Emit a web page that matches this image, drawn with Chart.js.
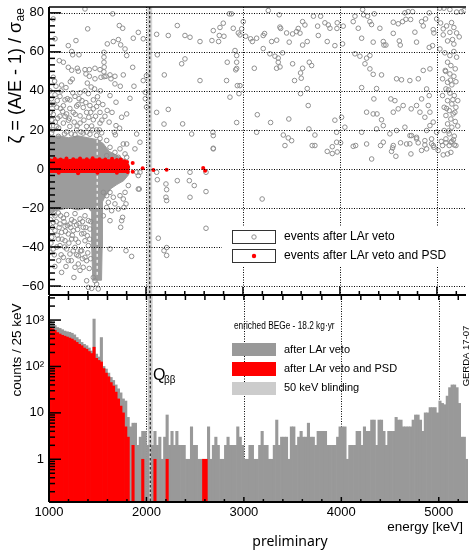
<!DOCTYPE html>
<html>
<head>
<meta charset="utf-8">
<script src="https://cdn.jsdelivr.net/npm/chart.js@4.4.0/dist/chart.umd.min.js"></script>
<style>
body { margin: 0; background: #fff; width: 471px; height: 556px; overflow: hidden; position: relative; }
canvas { position: absolute; left: 0; }
#top { top: 0; }
#bot { top: 290px; }
</style>
</head>
<body>
<canvas id="top" width="471" height="300"></canvas>
<canvas id="bot" width="471" height="266"></canvas>
<script>
const FONT = "'Liberation Sans', Arial, Helvetica, sans-serif";
Chart.defaults.font.family = FONT;
Chart.defaults.color = '#000';

// binning of the energy spectrum
const binStart = 1000;
const binWidth = 25;
const qbb = 2039;
const blindLow = 2014;
const blindHigh = 2064;

// counts / 25 keV after LAr veto
const grayCounts = [
  950, 860, 760, 690, 660, 620, 580, 560, 545, 520,
  480, 420, 380, 330, 300, 280, 250, 215, 1050, 185,
  160, 420, 100, 88, 72, 58, 50, 40, 33, 27,
  20, 18, 8, 5, 6, 6, 2, 3, 4, 4,
  2, 0, 2, 4, 2, 3, 1, 3, 9, 2,
  4, 2, 4, 2, 2, 2, 1, 1, 5, 2,
  2, 1, 1, 1, 1, 5, 1, 2, 3, 2,
  1, 1, 2, 3, 2, 2, 2, 5, 3, 2,
  1, 1, 2, 2, 1, 1, 2, 4, 2, 2,
  1, 1, 2, 7, 2, 3, 3, 3, 1, 5,
  5, 2, 3, 4, 3, 3, 6, 3, 3, 2,
  4, 4, 4, 4, 2, 2, 2, 2, 3, 5,
  5, 5, 1, 2, 2, 2, 4, 4, 2, 5,
  4, 4, 7, 7, 2, 7, 7, 4, 2, 4,
  4, 4, 8, 7, 7, 5, 5, 5, 5, 7,
  9, 9, 7, 4, 10, 10, 13, 13, 13, 10,
  18, 16, 15, 23, 35, 40, 40, 35, 16, 3,
  3, 1
];

// counts / 25 keV after LAr veto and PSD
const redCounts = [
  700, 650, 600, 540, 500, 470, 450, 430, 410, 390,
  360, 330, 300, 280, 250, 235, 210, 190, 260, 150,
  135, 125, 90, 72, 60, 45, 38, 28, 20, 14,
  10, 5, 3, 0, 2, 0, 0, 0, 1, 0,
  0, 0, 0, 1, 0, 0, 0, 0, 1, 0,
  0, 0, 0, 0, 0, 0, 0, 0, 0, 0,
  0, 0, 0, 1, 1, 0, 0, 0, 0, 0,
  0, 0, 0, 0, 0, 0, 0, 0, 0, 0,
  0, 0, 0, 0, 0, 0, 0, 0, 0, 0,
  0, 0, 0, 0, 0, 0, 0, 0, 0, 0,
  0, 0, 0, 0, 0, 0, 0, 0, 0, 0,
  0, 0, 0, 0, 0, 0, 0, 0, 0, 0,
  0, 0, 0, 0, 0, 0, 0, 0, 0, 0,
  0, 0, 0, 0, 0, 0, 0, 0, 0, 0,
  0, 0, 0, 0, 0, 0, 0, 0, 0, 0,
  0, 0, 0, 0, 0, 0, 0, 0, 0, 0,
  0, 0, 0, 0, 0, 0, 0, 0, 0, 0,
  0, 0
];

// [energy keV, zeta] events after LAr veto (sparse part)
const vetoEvents = [
  [1371,82],[1044,76.9],[1062,66.7],[1657,79.5],[1399,71.8],[1725,73.5],[1760,72.1],[1921,70],[1869,67],[1972,66.7],
  [1199,63.2],[1278,65.8],[1601,64.1],[1663,65.3],[1715,66.3],[1739,63.6],[1784,61.5],[1309,58.5],[1234,60.2],[1244,58.5],
  [1801,58.1],[1567,59.8],[1567,57.3],[1567,54.7],[1569,52.2],[1566,49.8],[1568,47.3],[1106,55.5],[1148,54.7],[1199,52.1],
  [1234,50.6],[1292,51.6],[1302,50.1],[1371,50.9],[1416,50.9],[1474,51.6],[1526,50.9],[1381,48.7],[1416,47.5],[1474,46.2],
  [1536,47],[1588,47.5],[1629,48.2],[1639,46.2],[1680,43.6],[1680,47.5],[1766,48.2],[1863,52.1],[1972,45.3],[2005,47.8],
  [1876,42.4],[1735,42.4],[1629,37.6],[1691,34.2],[1835,36.2],[1993,39.3],[1993,36],[2005,31.7],[1801,28.2],[1749,26.5],
  [1691,22.2],[1728,20.9],[1674,18.8],[1684,17.5],[1766,12.8],
  [1044,47],[1058,45],[1072,42.4],[1130,43],[1175,41.7],[1220,44.7],[1240,46],[1062,38],[1113,37.2],[1165,35.4],
  [1215,35.4],[1268,37.2],[1320,39],[1371,40],[1406,38.6],[1457,35.4],[1491,32],[1422,32.5],[1353,31.5],[1285,32.2],
  [1215,31],[1148,32.4],[1079,31.6],[1044,28],[1113,27],[1182,28.2],[1250,29],[1320,27.2],[1388,29],[1457,30.8],
  [1526,29],[1320,23.5],[1388,21.8],[1457,25.2],[1526,23.5],[1577,27],[1491,20],[1353,18.4],[1285,20],[1215,21.8],
  [1148,23.5],[1079,21.8],[1027,18.4],[1096,16.7],[1182,19],[1268,17.5],[1422,17.8],[1491,17.2],[1543,18.5],[1595,14.6],
  [1526,15.6],[1388,18.9],[1010,40],[1020,33],[1030,25],[1090,26],[1140,29.5],[1200,25],[1260,24],[1300,33],
  [1340,35],[1410,26.5],[1440,22],[1470,41],[1500,37],[1530,40],[1555,33],[1600,30],[1620,24],[1650,29],
  [1005,22],[1015,29],[1025,36],[1040,20],[1050,33],[1065,24],[1085,35],[1100,21],[1120,31],[1125,40],
  [1160,18],[1165,27],[1190,36],[1210,26],[1230,18],[1245,39],[1270,28],[1290,22],[1310,36],[1330,19],
  [1360,25],[1380,34],[1395,44],[1430,29],[1450,20],[1480,27],[1510,34],[1520,20],[1545,25],[1435,42],
  [2117,58.5],[2230,68.4],[2110,69],[2323,73.5],[2402,56.4],[2368,53.9],[2402,68.4],[2454,67.5],[2557,45.3],[2557,65.3],
  [2680,65.8],[2694,70.9],[2763,72.5],[2797,74.7],[2859,79.5],[2882,79.5],[2900,72.1],[2952,69.7],[2756,68.4],[2749,65.3],
  [2804,68],[2838,54.7],[2935,54.7],[2969,42.7],[2935,51.5],[2831,45.3],[2866,36.8],[2378,23.1],[2471,17.9],[2690,18.8],
  [2694,17.1],[2694,10.3],[2110,29],[2186,23],[2189,48.2],[2230,30.5],
  [3003,75.5],[2987,71.8],[2969,68.7],[3028,68],[3079,66.7],[3097,65.3],[3141,67],[3209,68.4],[3223,69.4],[3261,81.2],
  [3374,79],[3296,65.3],[3348,66],[3381,72.7],[3389,72],[3450,69.7],[3477,65],[3512,69.2],[3553,70.4],[3570,72],
  [3588,69.6],[3615,75.5],[3639,73.8],[3663,65.3],[3615,63.5],[3727,78.3],[3801,78.3],[3770,73.2],[3777,68.4],[3845,74.9],
  [3880,73.8],[3897,72.1],[3869,65.3],[3972,74.9],[3969,72],[3948,63.2],[4034,73.2],[4027,64.1],[4137,75.5],[4155,78.3],
  [4189,72.1],[4224,67],[4234,81.7],[4244,79],[4285,78.3],[4309,75.5],[4326,74],[4343,65],[4354,79.5],[4412,72.1],
  [4447,65.3],[4454,63.5],[4474,63.5],[4550,75.2],[4550,69.5],[4601,74.4],[4612,65.6],[4622,63.5],[4646,75.5],[4670,80],
  [4680,76.7],[4704,80.6],[4729,76.6],[4749,80.6],[4773,70.1],[4790,65],[4842,75.5],[4859,73.3],[4883,76.9],[4921,80],
  [4962,71.4],[4969,69.7],[4955,63.2],[4921,62.3],[5031,82.4],[5072,82.4],[5134,81.7],[5203,80.4],[5254,80.6],[5280,81.2],
  [4997,76.9],[5038,74.8],[5065,71.8],[5100,73.3],[5151,75],[5175,72.5],[5203,69.7],[5230,67.7],[5161,66.3],[5110,65.6],
  [5065,68.7],[5134,70],[5175,64],[5031,61.5],[5082,59.5],[5134,58.1],[5175,60.2],[5203,57.3],[5110,54.7],[5144,53],
  [5189,51.3],[5086,50.5],[5134,48.7],[5175,47.5],[5058,46.2],[5110,44.4],[5154,43.1],[5196,44.7],[5093,41],[5134,38.9],
  [5179,37.6],[5058,37.6],[5110,35],[5154,33.3],[5196,31.6],[5075,31.6],[5127,29.9],[5168,28.2],[5093,27.4],[5144,25.6],
  [5189,24.3],[5110,23.1],[5154,21.4],[5075,19.7],[5127,18],[5179,16.8],[5093,15.4],[5144,13.7],[5196,12],[5058,12],
  [5120,40.5],[5165,35.5],[5100,31],[5140,45.5],[5185,29],[5120,19.5],[5170,15],[5215,22],[5215,35],[5090,50],
  [4928,51.3],[4859,50.5],[4808,46.2],[4894,41],[4921,37.6],[4842,35.9],[4790,32.5],[4911,32.5],[4928,29.1],[4876,26.5],
  [4825,29.1],[4962,24],[4928,22.2],[4894,19.7],[4997,18.8],[4945,15.4],[4876,14.5],[4790,16.2],[4722,17.1],[4962,12],
  [4155,59],[4206,57.8],[4275,56.8],[4309,58.1],[4258,53.9],[4309,51.3],[4343,48.5],[4429,48.2],[4584,46.2],[4635,45.7],
  [4721,45.3],[4224,41.7],[4350,35.9],[4378,41.2],[4525,35.9],[4567,35],[4601,30.8],[4550,29.1],[4652,32.5],[4735,30.8],
  [4275,29.1],[4343,28.2],[4382,28.2],[4429,25.2],[4447,22.2],[4378,20.5],[4224,18.8],[4051,21.4],[4017,26.5],[3966,13.7],
  [4515,18],[4584,19.7],[4670,21.4],[4738,17.1],[4790,15.4],[4687,12.8],[4550,12],[4447,13.7],
  [2918,60.7],[2935,58.1],[3209,61.7],[3278,59],[3330,57.8],[3364,56.8],[3364,54.7],[3409,59.5],[3512,53.9],[3684,54.7],
  [3708,53],[3615,51.6],[3594,49.2],[3347,51.6],[3382,52.3],[3117,51.6],[2925,50.8],[3601,46.5],[3532,45.3],[2942,42.7],
  [3663,41.2],[3594,38.6],[3673,32.5],[2959,38.6],[3148,27.8],[3285,23.8],[3473,25.6],[3680,20.5],[3416,17.4],[3141,18.8],
  [2935,23.8],[3467,15.9],[3948,25],[3966,18.8],[3742,17.4],[3742,12],[4162,12],[4275,12.8],
  [3433,12],[3502,14.5],[3714,12],[3869,9],[3921,7.9],[3921,11.4],[3972,8.7],[4007,13.4],[4137,11.6],[4327,5.1],
  [4419,12],[4543,10.8],[4532,9],[4577,6.5],[4625,13.4],[4721,12.9],[4732,7.7],[4807,13.4],[4842,9.5],[4894,10.3],
  [4876,12.3],[4945,12.9],[4969,11.1],[5013,9.5],[5045,14.1],[5093,13.4],[5127,12],[5154,14.1],[5110,7.7],[5065,7.2],
  [5144,8.5],[5179,12.3],[3198,-15.4],
  [1801,12.8],[1801,6],[1904,-1.7],[1921,-3.4],[1938,-1.7],[1931,-10.3],[1794,-17.9],[1773,-19.7],[1759,-24.8],[1749,-26.5],
  [1739,-29.9],[1794,-41.9],[1852,-44.8],[1629,-41],[2110,-1.7],[2117,-5.5],[2127,-35.5],[2186,-41.9],[2213,-40.3],[2213,-44.3],
  [2206,-7.7],[2213,-10.6],[2206,-14.5],[2213,-16.2],[2323,-6],[2454,-1.7],[2447,-6],[2498,-8.5],[2454,-14.5],[2619,-11.6],
  [2619,-30.4],[2694,10.6],[2619,-1.7],[1904,17.9],[1938,13.7],[1886,10.3],[1921,-10.3],
  [1028,-21.4],[1062,-24],[1096,-22.6],[1148,-25.2],[1182,-23.4],[1234,-26],[1268,-22.9],[1320,-25.6],[1371,-24],[1406,-26.5],
  [1044,-27.4],[1113,-28.2],[1165,-29.4],[1216,-28.2],[1285,-28.7],[1353,-29.9],[1422,-30.8],[1062,-31.6],[1130,-32.5],[1199,-33.3],
  [1250,-31.6],[1337,-33.3],[1395,-34.2],[1028,-35],[1096,-35.9],[1165,-36.8],[1234,-35.9],[1302,-37.6],[1371,-36.8],[1113,-39.3],
  [1182,-41],[1268,-40.2],[1337,-41.9],[1406,-39.3],[1044,-41],[1216,-43.6],[1302,-44.5],[1371,-45.3],[1148,-45.3],[1010,-42.7],
  [1199,-47],[1302,-48.7],[1388,-47],[1268,-50.4],[1353,-50.4],[1130,-53],[1257,-55.6],[1388,-57.3],[1406,-60.7],[1440,-61.2],
  [1508,-61.5],[1474,-57.3],[1457,-55.6],[1491,-59],
  [1015,-26],[1035,-30],[1050,-23],[1075,-27],[1085,-34],[1105,-30],[1120,-24],[1135,-36],[1155,-27],[1170,-32],
  [1190,-29],[1205,-38],[1225,-30],[1240,-34],[1260,-27],[1275,-36],[1295,-31],[1310,-28],[1325,-42],[1345,-27],
  [1360,-33],[1380,-30],[1400,-43],[1420,-36],[1430,-27],[1020,-38],[1055,-44],[1080,-40],[1100,-47],[1125,-44],
  [1160,-40],[1175,-50],[1230,-47],[1250,-42],[1285,-44],[1320,-52],[1345,-46],[1415,-51],[1430,-46],[1060,-50],
  [1560,-12],[1595,-13.7],[1629,-12],[1663,-14.5],[1612,-17.1],[1680,-17.9],[1732,-13.7],[1766,-15.4],[1715,-20.5],[1646,-21.4],
  [1595,-19.7],[1784,-12],[1818,-8.5],[1560,-24],[1629,-26.5],
  [1680,8.5],[1732,10.3],[1784,7.7],[1629,11.1],[1715,6],[1595,6.8]
];

// outline of the densely populated region after LAr veto
const coreOutline = [
  [1000,16],[1100,17],[1200,16],[1300,17],[1400,16],[1500,15],[1560,13],[1620,9],[1700,7],[1770,5],[1820,3],
  [1832,0],[1820,-3],[1770,-6],[1700,-8],[1640,-10],[1580,-14],[1550,-17],
  [1548,-40],[1542,-57],[1452,-57],[1440,-40],[1440,-22],
  [1400,-20],[1300,-21],[1200,-20],[1100,-21],[1000,-22]
];
const lineGap = [[1497,18],[1497,-55]];

// events after LAr veto and PSD
const psdBand = [
  [1000,4.8],[1100,5.1],[1200,4.8],[1300,5.1],[1400,4.9],[1500,5.2],[1600,4.7],[1700,4.7],[1780,4.1],[1815,2.5],
  [1818,-1],[1800,-1.8],[1000,-1.8]
];
const psdEvents = [
  [1863,3],[1863,-1.4],[1966,0.4],[2076,-0.5],[2213,-0.4],[2590,0.5],[2610,-0.9],
  [1010,4.5],[1060,5.2],[1120,4.8],[1180,5.3],[1250,5],[1320,5.4],[1390,5],[1450,5.5],[1520,5],[1580,4.8],
  [1650,5.2],[1700,4.6],[1740,4.9],[1780,4],[1805,3.5],[1815,1],[1812,-1.5],
  [1100,-2],[1300,-2.2],[1500,-2],[1700,-2]
];

const zetaTicks = [-60, -40, -20, 0, 20, 40, 60, 80];
const energyTicks = [1000, 2000, 3000, 4000, 5000];
const countTicks = [1, 10, 100, 1000];
const countLabels = ['1', '10', '10²', '10³'];

const toXY = arr => arr.map(([x, y]) => ({x: x, y: y}));
const binCenters = grayCounts.map((c, i) => binStart + binWidth * (i + 0.5));
const toHist = counts => counts.map((c, i) => ({x: binCenters[i], y: c > 0 ? c : null}));

function line(ctx, x1, y1, x2, y2) {
  ctx.beginPath(); ctx.moveTo(x1, y1); ctx.lineTo(x2, y2); ctx.stroke();
}
function minorRange(from, to, step) {
  const out = [];
  for (let v = from; v <= to + 1e-9; v += step) out.push(Math.round(v * 1000) / 1000);
  return out;
}
function text(ctx, s, x, y, size, align, base, family) {
  ctx.font = size + 'px ' + (family || FONT);
  ctx.textAlign = align || 'left';
  ctx.textBaseline = base || 'middle';
  ctx.fillStyle = '#000';
  ctx.fillText(s, x, y);
}

const topDeco = {
  id: 'topDeco',
  beforeDatasetsDraw(chart) {
    const {ctx, chartArea: a, scales: {x}} = chart;
    ctx.save();
    ctx.fillStyle = '#d4d4d4';
    const b0 = x.getPixelForValue(blindLow), b1 = x.getPixelForValue(blindHigh);
    ctx.fillRect(b0, a.top, b1 - b0, a.bottom - a.top);
    ctx.restore();
  },
  afterDatasetsDraw(chart) {
    const {ctx, chartArea: a, scales: {x, y}} = chart;
    ctx.save();
    // dotted grid
    ctx.strokeStyle = '#000';
    ctx.lineWidth = 1;
    ctx.setLineDash([1, 1.5]);
    zetaTicks.forEach(v => { const py = Math.round(y.getPixelForValue(v)) + 0.5; line(ctx, a.left, py, a.right, py); });
    energyTicks.slice(1).forEach(v => { const px = Math.round(x.getPixelForValue(v)) + 0.5; line(ctx, px, a.top, px, a.bottom); });
    ctx.setLineDash([2.5, 2]);
    const qx = x.getPixelForValue(qbb);
    line(ctx, qx, a.top, qx, a.bottom);
    ctx.setLineDash([]);

    // legend
    ctx.fillStyle = '#fff';
    ctx.fillRect(222, 226, a.right - 222, 41);
    ctx.strokeStyle = '#333';
    ctx.strokeRect(232.5, 230.5, 43, 13);
    ctx.strokeRect(232.5, 249.5, 43, 13);
    ctx.strokeStyle = '#8f8f8f';
    ctx.beginPath(); ctx.arc(254, 237, 2.2, 0, 2 * Math.PI); ctx.stroke();
    ctx.fillStyle = '#ff0000';
    ctx.beginPath(); ctx.arc(254, 256, 2.2, 0, 2 * Math.PI); ctx.fill();
    text(ctx, 'events after LAr veto', 284, 237, 12);
    text(ctx, 'events after LAr veto and PSD', 284, 256, 12);

    // frame and ticks
    ctx.strokeStyle = '#000';
    ctx.lineWidth = 1.5;
    line(ctx, a.left, a.top, a.right, a.top);
    ctx.lineWidth = 2;
    line(ctx, a.left, a.top, a.left, a.bottom);
    line(ctx, a.left, a.bottom, a.right, a.bottom);
    ctx.lineWidth = 1.5;
    minorRange(-60, 80, 20 / 6).forEach(v => {
      if (v < y.min || v > y.max) return;
      const py = y.getPixelForValue(v);
      const major = zetaTicks.some(t => Math.abs(t - v) < 0.01);
      line(ctx, a.left, py, a.left + (major ? 12 : 6), py);
    });
    minorRange(1200, 5200, 200).forEach(v => {
      const px = x.getPixelForValue(v);
      const major = v % 1000 === 0;
      line(ctx, px, a.bottom, px, a.bottom - (major ? 8 : 4));
    });

    // axis title with subscript
    ctx.translate(16, 76);
    ctx.rotate(-Math.PI / 2);
    ctx.font = '18px ' + FONT;
    const main = 'ζ = (A/E - 1) / σ';
    const w1 = ctx.measureText(main).width;
    ctx.font = '12px ' + FONT;
    const w2 = ctx.measureText('ae').width;
    const x0 = -(w1 + w2) / 2;
    text(ctx, main, x0, 0, 18);
    text(ctx, 'ae', x0 + w1 + 0.5, 5, 12);
    ctx.restore();
  }
};

const botDeco = {
  id: 'botDeco',
  beforeDatasetsDraw(chart) {
    const {ctx, chartArea: a, scales: {x}} = chart;
    ctx.save();
    ctx.fillStyle = '#cccccc';
    const b0 = x.getPixelForValue(blindLow), b1 = x.getPixelForValue(blindHigh);
    ctx.fillRect(b0, a.top, b1 - b0, a.bottom - a.top);
    ctx.strokeStyle = '#000';
    ctx.lineWidth = 1;
    ctx.setLineDash([1, 1.5]);
    energyTicks.slice(1).forEach(v => { const px = Math.round(x.getPixelForValue(v)) + 0.5; line(ctx, px, a.top, px, a.bottom); });
    ctx.setLineDash([2.5, 2]);
    const qx = x.getPixelForValue(qbb);
    line(ctx, qx, a.top, qx, a.bottom);
    ctx.restore();
  },
  afterDatasetsDraw(chart) {
    const {ctx, chartArea: a, scales: {x, y}} = chart;
    ctx.save();
    ctx.strokeStyle = '#000';
    ctx.lineWidth = 2;
    line(ctx, a.left, a.top, a.left, a.bottom);
    line(ctx, a.left, a.bottom, a.right, a.bottom);
    ctx.lineWidth = 1.5;
    minorRange(1200, 5200, 200).forEach(v => {
      const px = x.getPixelForValue(v);
      const major = v % 1000 === 0;
      line(ctx, px, a.top, px, a.top + 4);
      line(ctx, px, a.bottom, px, a.bottom - (major ? 5 : 3));
    });
    [0.1, 1, 10, 100, 1000].forEach(dec => {
      for (let k = 1; k <= 9; k++) {
        const v = dec * k;
        if (v < y.min || v > y.max) continue;
        const py = y.getPixelForValue(v);
        line(ctx, a.left, py, a.left + (k === 1 ? 12 : 6), py);
      }
    });

    // legend
    ctx.fillStyle = '#999999'; ctx.fillRect(232, 53, 44, 13);
    ctx.fillStyle = '#ff0000'; ctx.fillRect(232, 72, 44, 14);
    ctx.fillStyle = '#cccccc'; ctx.fillRect(232, 92, 44, 13);
    ctx.save();
    ctx.translate(234, 36);
    ctx.scale(0.83, 1);
    text(ctx, 'enriched BEGe - 18.2 kg·yr', 0, 0, 10);
    ctx.restore();
    text(ctx, 'after LAr veto', 284, 60, 11);
    text(ctx, 'after LAr veto and PSD', 284, 79, 11);
    text(ctx, '50 keV blinding', 284, 98, 11);

    // Q_bb label
    text(ctx, 'Q', 153, 90, 16, 'left', 'alphabetic');
    text(ctx, 'ββ', 164, 93, 10, 'left', 'alphabetic');

    text(ctx, 'energy [keV]', 463, 237, 13.5, 'right');
    text(ctx, 'preliminary', 290, 256, 14, 'center', 'alphabetic', "'Noto Sans', sans-serif");

    ctx.save();
    ctx.translate(17, 60);
    ctx.rotate(-Math.PI / 2);
    text(ctx, 'counts / 25 keV', 0, 0, 13.5, 'center');
    ctx.restore();

    ctx.translate(466, 66);
    ctx.rotate(-Math.PI / 2);
    text(ctx, 'GERDA 17-07', 0, 0, 9.5, 'center');
    ctx.restore();
  }
};

function noPad(s) { s.paddingTop = 0; s.paddingBottom = 0; s.paddingLeft = 0; s.paddingRight = 0; }

new Chart(document.getElementById('top'), {
  type: 'scatter',
  data: {
    datasets: [
      { data: toXY(psdEvents), pointRadius: 2, backgroundColor: '#ff0000', borderWidth: 0, order: 1 },
      { type: 'line', data: toXY(psdBand), showLine: true, fill: 'shape', backgroundColor: '#ff0000',
        borderColor: '#ff0000', borderWidth: 1, pointRadius: 0, tension: 0, order: 2 },
      { type: 'line', data: toXY(lineGap), showLine: true, borderColor: '#ffffff', borderWidth: 1.2,
        borderDash: [3, 3], pointRadius: 0, fill: false, order: 3 },
      { data: toXY(vetoEvents), pointRadius: 2.3, borderColor: '#8f8f8f', borderWidth: 1,
        backgroundColor: 'rgba(0,0,0,0)', order: 4 },
      { type: 'line', data: toXY(coreOutline), showLine: true, fill: 'shape', backgroundColor: '#9c9c9c',
        borderColor: '#9c9c9c', borderWidth: 1, pointRadius: 0, tension: 0, order: 5 }
    ]
  },
  options: {
    responsive: false,
    animation: false,
    events: [],
    layout: { padding: { top: 7, right: 3, left: 0, bottom: 0 } },
    plugins: { legend: { display: false }, tooltip: { enabled: false } },
    scales: {
      x: {
        type: 'linear', min: 1000, max: 5300,
        ticks: { display: false },
        grid: { display: false, drawTicks: false },
        border: { display: false },
        afterFit(s) { s.height = 4; noPad(s); }
      },
      y: {
        type: 'linear', min: -64.6, max: 83,
        afterBuildTicks(s) { s.ticks = zetaTicks.map(v => ({value: v})); },
        ticks: { font: { size: 13 }, color: '#000', padding: 5,
          callback: v => (v < 0 ? '\u2212' + Math.abs(v) : String(v)) },
        grid: { display: false, drawTicks: false },
        border: { display: false },
        afterFit(s) { s.width = 49; noPad(s); }
      }
    }
  },
  plugins: [topDeco]
});

new Chart(document.getElementById('bot'), {
  type: 'bar',
  data: {
    datasets: [
      { data: toHist(redCounts), backgroundColor: '#ff0000', barPercentage: 1, categoryPercentage: 1,
        grouped: false, borderWidth: 0, order: 1 },
      { data: toHist(grayCounts), backgroundColor: '#999999', barPercentage: 1, categoryPercentage: 1,
        grouped: false, borderWidth: 0, order: 2 }
    ]
  },
  options: {
    responsive: false,
    animation: false,
    events: [],
    layout: { padding: { top: 6, right: 3, left: 0, bottom: 0 } },
    plugins: { legend: { display: false }, tooltip: { enabled: false } },
    scales: {
      x: {
        type: 'linear', min: 1000, max: 5300, offset: false,
        afterBuildTicks(s) { s.ticks = energyTicks.map(v => ({value: v})); },
        ticks: { font: { size: 13 }, color: '#000', padding: 3, maxRotation: 0, autoSkip: false,
          callback: v => String(v) },
        grid: { display: false, drawTicks: false, offset: false },
        border: { display: false },
        afterFit(s) { s.height = 54; noPad(s); }
      },
      y: {
        type: 'logarithmic', min: 0.12, max: 3300,
        afterBuildTicks(s) { s.ticks = countTicks.map(v => ({value: v})); },
        ticks: { font: { size: 13 }, color: '#000', padding: 5,
          callback: v => countLabels[countTicks.indexOf(v)] },
        grid: { display: false, drawTicks: false },
        border: { display: false },
        afterFit(s) { s.width = 49; noPad(s); }
      }
    }
  },
  plugins: [botDeco]
});
</script>
</body>
</html>
